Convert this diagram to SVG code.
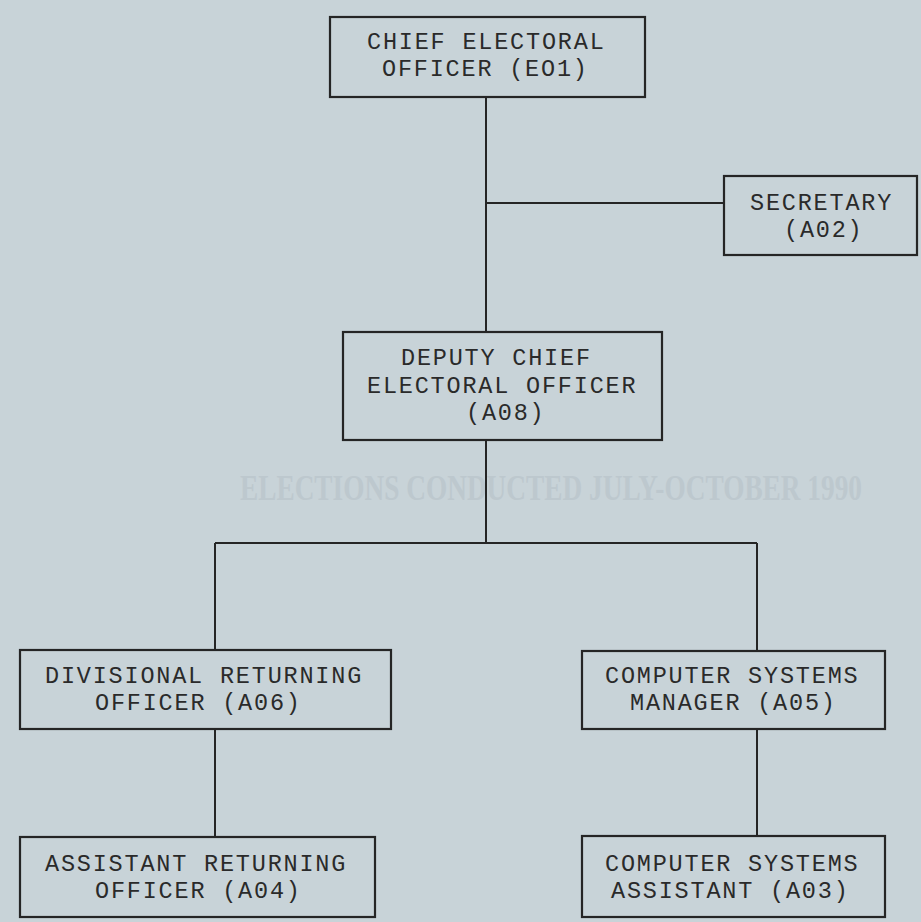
<svg xmlns="http://www.w3.org/2000/svg" width="921" height="922" viewBox="0 0 921 922">
<style>
.bg{fill:#c8d3d8}
.box{fill:none;stroke:#252525;stroke-width:2.2}
.ln{stroke:#252525;stroke-width:2;fill:none}
.t{font-family:"Liberation Mono","DejaVu Sans Mono",monospace;font-size:23.5px;letter-spacing:1.8px;fill:#2a2a2a}
.ghost{font-family:"Liberation Serif","DejaVu Serif",serif;font-weight:bold;font-size:29px;fill:#bdc8ce}
</style>
<rect class="bg" x="0" y="0" width="921" height="922"/>
<text class="ghost" transform="translate(240,500) scale(1,1.22)" x="0" y="0" textLength="622" lengthAdjust="spacingAndGlyphs">ELECTIONS CONDUCTED JULY-OCTOBER 1990</text>
<g id="connectors">
<line class="ln" x1="486" y1="97" x2="486" y2="332"/>
<line class="ln" x1="486" y1="203" x2="724" y2="203"/>
<line class="ln" x1="486" y1="440" x2="486" y2="543"/>
<line class="ln" x1="215" y1="543" x2="757" y2="543"/>
<line class="ln" x1="215" y1="543" x2="215" y2="650"/>
<line class="ln" x1="757" y1="543" x2="757" y2="651"/>
<line class="ln" x1="215" y1="729" x2="215" y2="837"/>
<line class="ln" x1="757" y1="729" x2="757" y2="836"/>
</g>
<g id="chief">
<rect class="box" x="330" y="17" width="315" height="80"/>
<text class="t" x="367" y="49">CHIEF ELECTORAL</text>
<text class="t" x="382" y="76">OFFICER (EO1)</text>
</g>
<g id="secretary">
<rect class="box" x="724" y="176" width="193" height="79"/>
<text class="t" x="750" y="210">SECRETARY</text>
<text class="t" x="784" y="237">(A02)</text>
</g>
<g id="deputy">
<rect class="box" x="343" y="332" width="319" height="108"/>
<text class="t" x="401" y="365">DEPUTY CHIEF</text>
<text class="t" x="367" y="393">ELECTORAL OFFICER</text>
<text class="t" x="466" y="420">(A08)</text>
</g>
<g id="divisional">
<rect class="box" x="20" y="650" width="371" height="79"/>
<text class="t" x="45" y="683">DIVISIONAL RETURNING</text>
<text class="t" x="95" y="710">OFFICER (A06)</text>
</g>
<g id="csmanager">
<rect class="box" x="582" y="651" width="303" height="78"/>
<text class="t" x="605" y="683">COMPUTER SYSTEMS</text>
<text class="t" x="630" y="710">MANAGER (A05)</text>
</g>
<g id="assistant-returning">
<rect class="box" x="20" y="837" width="355" height="80"/>
<text class="t" x="45" y="871">ASSISTANT RETURNING</text>
<text class="t" x="95" y="898">OFFICER (A04)</text>
</g>
<g id="csassistant">
<rect class="box" x="582" y="836" width="303" height="81"/>
<text class="t" x="605" y="871">COMPUTER SYSTEMS</text>
<text class="t" x="611" y="898">ASSISTANT (A03)</text>
</g>
</svg>
